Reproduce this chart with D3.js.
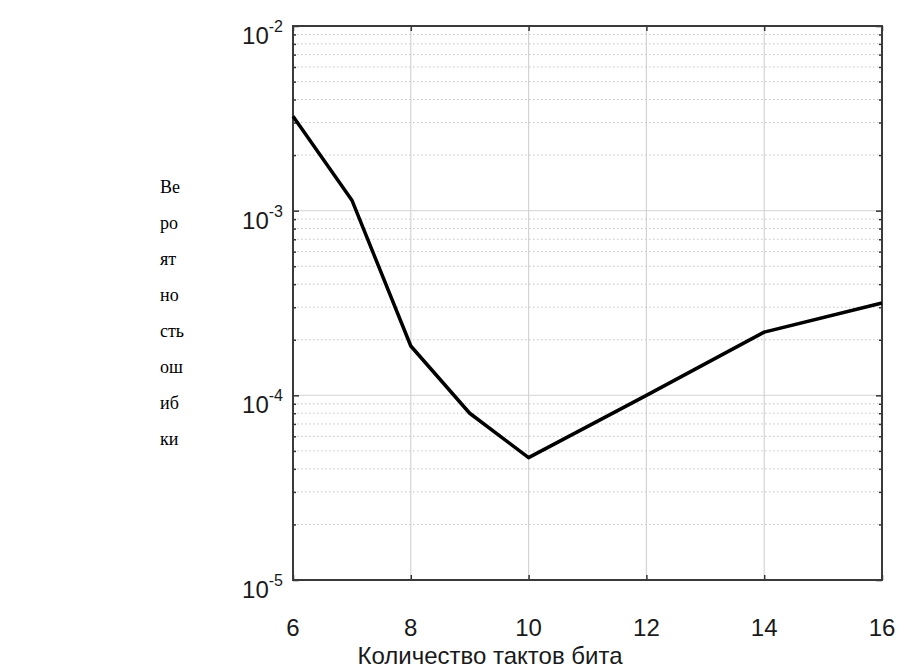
<!DOCTYPE html>
<html><head><meta charset="utf-8">
<script src="https://cdn.jsdelivr.net/npm/d3@7"></script>
<style>
html,body{margin:0;padding:0;background:#fff;}
svg{display:block;}
</style></head>
<body>
<svg id="chart" width="900" height="668"></svg>
<script>
// Data
const bitClocks = [6, 7, 8, 9, 10, 12, 14, 16];
const errorProb = [3.25e-3, 1.14e-3, 1.85e-4, 8.0e-5, 4.6e-5, 1.0e-4, 2.2e-4, 3.16e-4];
const xTicks = [6, 8, 10, 12, 14, 16];
const yExponents = [-2, -3, -4, -5];
const yLabelLines = ["Ве", "ро", "ят", "но", "сть", "ош", "иб", "ки"];
const xLabel = "Количество тактов бита";

const svg = d3.select("#chart");
const L = 293, R = 882, T = 26, B = 580;
const x = d3.scaleLinear().domain([6, 16]).range([L, R]);
const y = d3.scaleLog().domain([1e-5, 1e-2]).range([B, T]);

const sansFont = "'Liberation Sans', Arial, Helvetica, sans-serif";

// minor gridlines
const minorVals = [];
for (let e = -5; e < -2; e++) for (let m = 2; m <= 9; m++) minorVals.push(m * Math.pow(10, e));
const majorVals = yExponents.map(e => Math.pow(10, e));

const grid = svg.append("g");
grid.selectAll("line.minor").data(minorVals).join("line")
  .attr("x1", L).attr("x2", R).attr("y1", d => y(d)).attr("y2", d => y(d))
  .attr("stroke", "#c4c4c4").attr("stroke-width", 1).attr("stroke-dasharray", "1.5,2.5");
grid.selectAll("line.major").data(majorVals.filter(v => v > 1e-5 && v < 1e-2)).join("line")
  .attr("x1", L).attr("x2", R).attr("y1", d => y(d)).attr("y2", d => y(d))
  .attr("stroke", "#dcdcdc").attr("stroke-width", 1.2);
grid.selectAll("line.vx").data(xTicks.filter(v => v > 6 && v < 16)).join("line")
  .attr("x1", d => x(d)).attr("x2", d => x(d)).attr("y1", T).attr("y2", B)
  .attr("stroke", "#d4d4d4").attr("stroke-width", 1.2);

// axes via d3
const xAxisB = d3.axisBottom(x).tickValues(xTicks).tickSizeInner(-5).tickSizeOuter(0).tickFormat("");
const xAxisT = d3.axisTop(x).tickValues(xTicks).tickSizeInner(-5).tickSizeOuter(0).tickFormat("");
svg.append("g").attr("transform", `translate(0,${B})`).call(xAxisB);
svg.append("g").attr("transform", `translate(0,${T})`).call(xAxisT);

const yMajL = d3.axisLeft(y).tickValues(majorVals).tickSizeInner(-6).tickSizeOuter(0).tickFormat("");
const yMinL = d3.axisLeft(y).tickValues(minorVals).tickSizeInner(-3).tickSizeOuter(0).tickFormat("");
const yMajR = d3.axisRight(y).tickValues(majorVals).tickSizeInner(-6).tickSizeOuter(0).tickFormat("");
const yMinR = d3.axisRight(y).tickValues(minorVals).tickSizeInner(-3).tickSizeOuter(0).tickFormat("");
[[yMajL, L], [yMinL, L], [yMajR, R], [yMinR, R]].forEach(([ax, px]) => {
  svg.append("g").attr("transform", `translate(${px},0)`).call(ax);
});
svg.selectAll(".domain").remove();
svg.selectAll(".tick line").attr("stroke", "#333").attr("stroke-width", 1.5);

// frame
svg.append("rect").attr("x", L).attr("y", T).attr("width", R - L).attr("height", B - T)
  .attr("fill", "none").attr("stroke", "#3a3a3a").attr("stroke-width", 2);

// data line
const line = d3.line().x(d => x(d[0])).y(d => y(d[1]));
svg.append("path").datum(bitClocks.map((c, i) => [c, errorProb[i]]))
  .attr("d", line).attr("fill", "none").attr("stroke", "#000").attr("stroke-width", 3.5)
  .attr("stroke-linejoin", "round");

// x tick labels
svg.append("g").selectAll("text").data(xTicks).join("text")
  .attr("x", d => x(d)).attr("y", 636)
  .attr("text-anchor", "middle").attr("font-family", sansFont).attr("font-size", 24)
  .attr("fill", "#1a1a1a").text(d => d);

// y tick labels 10^e
const yl = svg.append("g").selectAll("text").data(yExponents).join("text")
  .attr("x", 283).attr("y", d => y(Math.pow(10, d)) + 18)
  .attr("text-anchor", "end").attr("font-family", sansFont).attr("font-size", 24)
  .attr("fill", "#1a1a1a");
yl.append("tspan").text("10");
yl.append("tspan").attr("dy", -12).attr("font-size", 16).text(d => "-" + Math.abs(d));

// x axis label
svg.append("text").attr("x", 490).attr("y", 664).attr("text-anchor", "middle")
  .attr("font-family", sansFont).attr("font-size", 24).attr("fill", "#1a1a1a").text(xLabel);

// y axis label (wrapped column)
svg.append("g").selectAll("text").data(yLabelLines).join("text")
  .attr("x", 160).attr("y", (d, i) => 193 + i * 36)
  .attr("font-family", "'Liberation Serif', 'Times New Roman', serif").attr("font-size", 18)
  .attr("fill", "#000").text(d => d);
</script>
</body></html>
